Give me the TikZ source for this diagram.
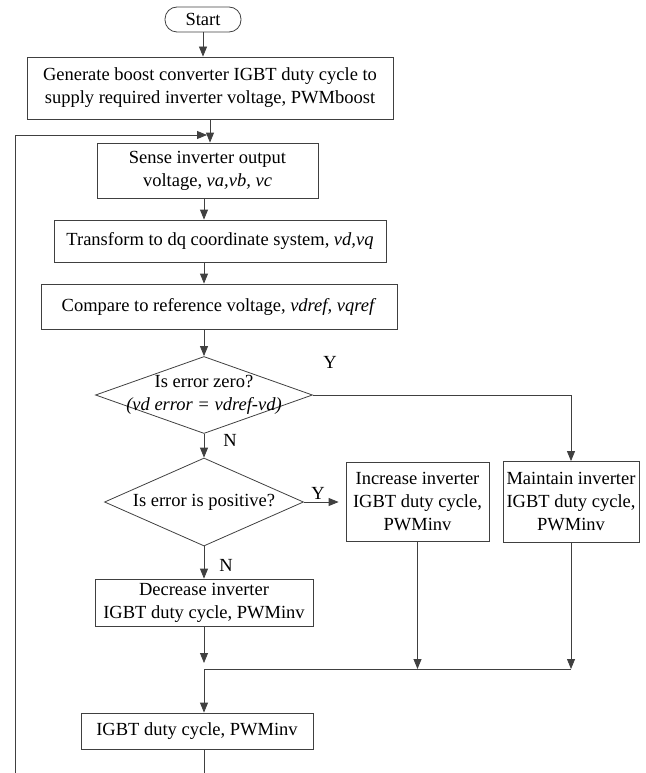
\documentclass[tikz,border=0pt]{standalone}
\usepackage{fontspec}
\setmainfont{Liberation Serif}
\usetikzlibrary{positioning, arrows.meta, shapes.geometric}

\begin{document}
\begin{tikzpicture}
    [
        x=1pt, y=-1pt, on grid, inner sep=0pt,
        font=\fontsize{18.5}{23}\selectfont,
        box_node/.style={rectangle, draw=black!75, line width=0.8pt, align=center},
        start_node/.style={rectangle, rounded corners=12pt, draw=black!75, line width=0.8pt, minimum width=76pt, minimum height=25pt},
        dec_node/.style={diamond, draw=black!75, line width=0.8pt},
        flow/.style={-{Triangle[length=10pt, width=8pt]}, line width=0.8pt, draw=black!75},
        plain/.style={line width=0.8pt, draw=black!75},
    ]
        \useasboundingbox (0,0) rectangle (645,773);
        \node[start_node] (start) at (203,19.5) {Start} ;
        \node[box_node, minimum width=366pt, minimum height=62pt] (gen) [below right = 68.5pt and 7pt of start] {Generate boost converter IGBT duty cycle to\\supply required inverter voltage, PWMboost} ;
        \node[box_node, minimum width=221pt, minimum height=55pt] (sense) [below left = 82.5pt and 2.5pt of gen] {Sense inverter output\\voltage, \textit{va,vb, vc}} ;
        \node[box_node, minimum width=332pt, minimum height=42pt] (trans) [below right = 70.5pt and 12.5pt of sense] {Transform to dq coordinate system, \textit{vd,vq}} ;
        \node[box_node, minimum width=356pt, minimum height=45pt] (comp) [below left = 65.5pt and 1pt of trans] {Compare to reference voltage, \textit{vdref, vqref}} ;
        \node[dec_node, minimum width=217pt, minimum height=77pt] (zero) [below left = 88.5pt and 15pt of comp] {} ;
        \node[align=center] (zerotxt) at (zero) {Is error zero?\\\textit{(vd error = vdref-vd)}} ;
        \node[dec_node, minimum width=199pt, minimum height=88pt] (pos) [below = 107pt of zero] {} ;
        \node (postxt) at (pos) {Is error is positive?} ;
        \node[box_node, minimum width=218pt, minimum height=47pt] (dec) [below = 100.5pt of pos] {Decrease inverter\\IGBT duty cycle, PWMinv} ;
        \node[box_node, minimum width=232pt, minimum height=36pt] (igbt) [below left = 128.5pt and 7pt of dec] {IGBT duty cycle, PWMinv} ;
        \node[box_node, minimum width=143pt, minimum height=79pt] (inc) [right = 213.5pt of pos] {Increase inverter\\IGBT duty cycle,\\PWMinv} ;
        \node[box_node, minimum width=136pt, minimum height=81pt] (keep) [right = 153.5pt of inc] {Maintain inverter\\IGBT duty cycle,\\PWMinv} ;
        \node (yes1) at (330,362) {Y} ;
        \node (no1) at (230,440) {N} ;
        \node (yes2) at (318,493) {Y} ;
        \node (no2) at (226,565) {N} ;
        \coordinate (loopend) at (15,773) ;
        \coordinate (loopin) at (207,135) ;
        \coordinate (outend) at (204,773) ;
        \coordinate (merge) at (204,669) ;
        \draw[flow] (start.south) -- (start.south |- gen.north) ;
        \draw[flow] (gen.south) -- (gen.south |- sense.north) ;
        \draw[flow] (loopend) |- (loopin) ;
        \draw[flow] (sense.south -| zero) -- (trans.north -| zero) ;
        \draw[flow] (trans.south -| zero) -- (comp.north -| zero) ;
        \draw[flow] (comp.south -| zero) -- (zero.north) ;
        \draw[flow] (zero.east) -| (keep.north) ;
        \draw[flow] (zero.south) -- (pos.north) ;
        \draw[flow, shorten >=7pt] (pos.east) -- (pos.east -| inc.west) ;
        \draw[flow] (pos.south) -- (dec.north) ;
        \draw[flow, shorten >=6pt] (dec.south) -- (merge) ;
        \draw[flow] (inc.south) -- (inc.south |- merge) ;
        \draw[flow] (keep.south) -- (keep.south |- merge) ;
        \draw[plain] (merge) -- (keep.south |- merge) ;
        \draw[flow] (merge) -- (merge |- igbt.north) ;
        \draw[plain] (igbt.south -| merge) -- (outend) ;
    \end{tikzpicture}
\end{document}
